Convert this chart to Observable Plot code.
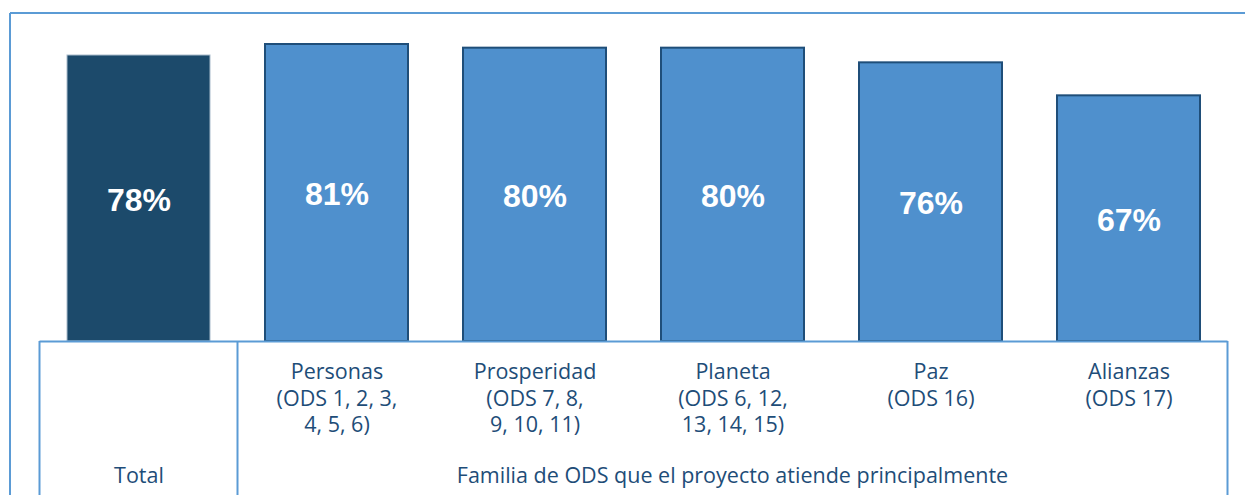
<!DOCTYPE html>
<html>
<head>
<meta charset="utf-8">
<script src="https://cdn.jsdelivr.net/npm/d3@7"></script>
<script src="https://cdn.jsdelivr.net/npm/@observablehq/plot@0.6"></script>
<style>
  html, body { margin: 0; padding: 0; background: #fff; }
  #chart svg { display: block; }
</style>
</head>
<body>
<div id="chart"></div>
<script>
const categories = ["Total", "Personas", "Prosperidad", "Planeta", "Paz", "Alianzas"];
const values = [78, 81, 80, 80, 76, 67];
const tickLabels = [
  "",
  "Personas\n(ODS 1, 2, 3,\n4, 5, 6)",
  "Prosperidad\n(ODS 7, 8,\n9, 10, 11)",
  "Planeta\n(ODS 6, 12,\n13, 14, 15)",
  "Paz\n(ODS 16)",
  "Alianzas\n(ODS 17)"
];
const groupLabels = ["Total", "Familia de ODS que el proyecto atiende principalmente"];

const data = categories.map((c, i) => ({cat: c, value: values[i], label: tickLabels[i]}));
const totalData = data.filter(d => d.cat === "Total");
const otherData = data.filter(d => d.cat !== "Total");

const lineColor = "#5b9bd5";
const textColor = "#1e4d78";

const chart = Plot.plot({
  width: 1245,
  height: 495,
  marginTop: 11,
  marginBottom: 154,
  marginLeft: 39.5,
  marginRight: 17.5,
  x: {domain: categories, paddingInner: 0.278, paddingOuter: 0.139, axis: null},
  y: {domain: [0, 90], axis: null},
  marks: [
    Plot.barY(totalData, {x: "cat", y: "value", fill: "#1c4a6b", stroke: "#a9bccc", strokeWidth: 1}),
    Plot.barY(otherData, {x: "cat", y: "value", fill: "#4f90cd", stroke: "#1f4e79", strokeWidth: 2}),
    Plot.text(data, {x: "cat", y: d => d.value / 2, text: d => d.value + "%", fill: "white", dy: 2,
      fontSize: 32, fontWeight: "bold", fontFamily: "Liberation Sans, Arial, sans-serif"}),
    Plot.text(otherData, {x: "cat", y: 0, text: "label", lineAnchor: "top", dy: 19, fontSize: 21.5,
      lineHeight: 1.23, fill: textColor, fontFamily: "Open Sans, sans-serif"}),
    Plot.text([groupLabels[0]], {x: () => categories[0], y: 0, text: d => d, dy: 135, fontSize: 21.5,
      fill: textColor, fontFamily: "Open Sans, sans-serif"}),
    Plot.ruleY([0], {stroke: lineColor, strokeWidth: 2})
  ]
});

const xs = chart.scale("x");
const [r0, r1] = xs.range;
const step = xs.step;
const svg = d3.select(chart);
// outer frame
const frame = svg.append("g").attr("stroke", lineColor).attr("stroke-width", 2).attr("fill", "none");
frame.append("line").attr("x1", 10).attr("x2", 1245).attr("y1", 13).attr("y2", 13);
frame.append("line").attr("x1", 10).attr("x2", 10).attr("y1", 13).attr("y2", 495);
// table vertical lines
const y0 = chart.scale("y").apply(0);
[r0, r0 + step, r1].forEach(x => {
  frame.append("line").attr("x1", x).attr("x2", x).attr("y1", y0).attr("y2", 495);
});
// group label for ODS families
svg.append("text")
  .attr("x", (r0 + step + r1) / 2)
  .attr("y", y0 + 135)
  .attr("dy", "0.32em")
  .attr("text-anchor", "middle")
  .attr("fill", textColor)
  .attr("font-size", 21.5)
  .attr("font-family", "Open Sans, sans-serif")
  .text(groupLabels[1]);

document.getElementById("chart").appendChild(chart);
</script>
</body>
</html>
